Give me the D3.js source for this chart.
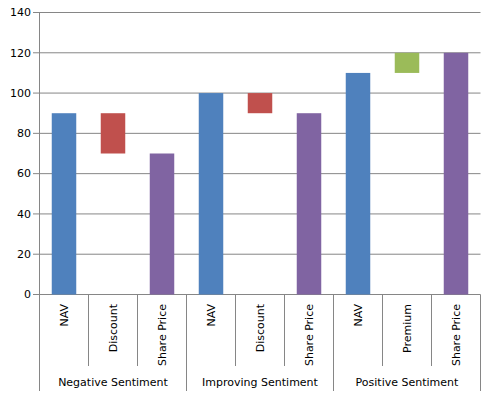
<!DOCTYPE html>
<html>
<head>
<meta charset="utf-8">
<script src="https://cdn.jsdelivr.net/npm/d3@7"></script>
<style>
  body { margin: 0; background: #fff; }
  text { font-family: "DejaVu Sans", sans-serif; font-size: 11px; fill: #000; }
</style>
</head>
<body>
<div id="chart"></div>
<script>
// data
let groups = ['Negative Sentiment', 'Improving Sentiment', 'Positive Sentiment'];
let items = ['NAV', 'Discount', 'Share Price', 'NAV', 'Discount', 'Share Price', 'NAV', 'Premium', 'Share Price'];
let bases = [0, 70, 0, 0, 90, 0, 0, 110, 0];
let values = [90, 20, 70, 100, 10, 90, 110, 10, 120];
let yTicks = [0, 20, 40, 60, 80, 100, 120, 140];

let colors = {'NAV': '#4F81BD', 'Discount': '#C0504D', 'Premium': '#9BBB59', 'Share Price': '#8064A2'};

let width = 490, height = 396;
let svg = d3.select('#chart').append('svg')
    .attr('width', width)
    .attr('height', height);

let data = items.map((d, i) => ({id: i, item: d, base: bases[i], value: values[i]}));

let x = d3.scaleBand()
    .domain(data.map(d => d.id))
    .range([39.5, 480.5])
    .padding(0);

let y = d3.scaleLinear()
    .domain([0, 140])
    .range([294.5, 12.5]);

let grey = '#868686';

// gridlines + y ticks
svg.append('g').selectAll('line')
    .data(yTicks)
    .enter().append('line')
    .attr('x1', 33).attr('x2', 480.5)
    .attr('y1', d => y(d)).attr('y2', d => y(d))
    .attr('stroke', grey).attr('stroke-width', 1);

svg.append('g').selectAll('text')
    .data(yTicks)
    .enter().append('text')
    .attr('x', 31)
    .attr('y', d => y(d))
    .attr('dy', '0.35em')
    .attr('text-anchor', 'end')
    .text(d => d);

// bars
let bw = x.bandwidth() * 0.5;
svg.append('g').selectAll('rect')
    .data(data)
    .enter().append('rect')
    .attr('x', d => x(d.id) + (x.bandwidth() - bw) / 2)
    .attr('y', d => y(d.base + d.value))
    .attr('width', bw)
    .attr('height', d => y(d.base) - y(d.base + d.value))
    .attr('fill', d => colors[d.item]);

// y axis line
svg.append('line')
    .attr('x1', 39.5).attr('x2', 39.5)
    .attr('y1', 12.5).attr('y2', 391)
    .attr('stroke', grey);

// category separators
let cuts = d3.range(1, items.length).map(i => x(i));
svg.append('g').selectAll('line')
    .data(cuts)
    .enter().append('line')
    .attr('x1', d => d).attr('x2', d => d)
    .attr('y1', 294.5)
    .attr('y2', (d, i) => (i + 1) % 3 == 0 ? 391 : 366)
    .attr('stroke', grey);

svg.append('line')
    .attr('x1', 480.5).attr('x2', 480.5)
    .attr('y1', 294.5).attr('y2', 391)
    .attr('stroke', grey);

// category labels
svg.append('g').selectAll('text')
    .data(data)
    .enter().append('text')
    .attr('transform', d => 'translate(' + (x(d.id) + x.bandwidth() / 2) + ',304) rotate(-90)')
    .attr('dy', '0.35em')
    .attr('text-anchor', 'end')
    .text(d => d.item);

// group labels
svg.append('g').selectAll('text')
    .data(groups)
    .enter().append('text')
    .attr('x', (d, i) => (x(i * 3) + x(i * 3 + 2) + x.bandwidth()) / 2)
    .attr('y', 386)
    .attr('text-anchor', 'middle')
    .text(d => d);
</script>
</body>
</html>
